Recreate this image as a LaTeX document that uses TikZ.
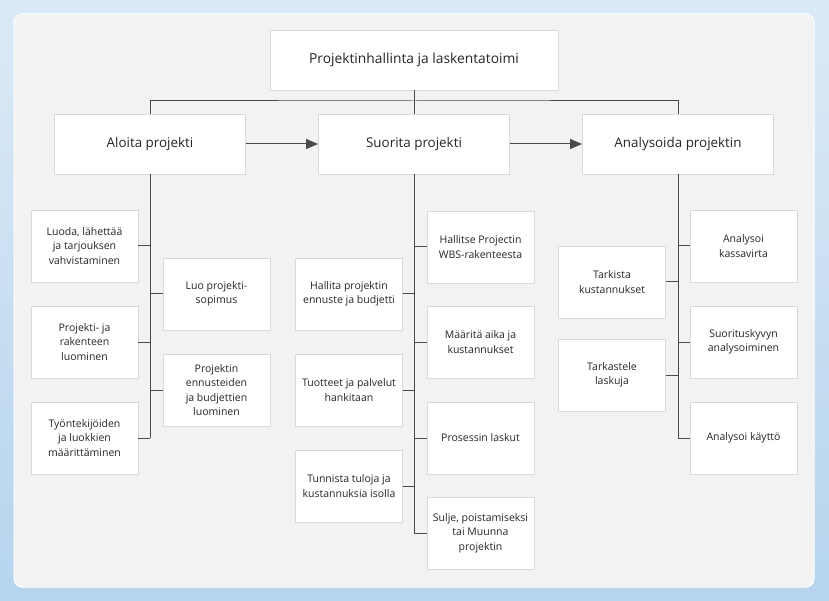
\documentclass[tikz,border=0pt]{standalone}
\usepackage{fontspec}
\setmainfont{Open Sans}
\usetikzlibrary{arrows.meta,positioning,calc}

\definecolor{bgLight}{HTML}{DCEAF7}
\definecolor{bgDark}{HTML}{B5D4ED}
\definecolor{panelGrey}{HTML}{F2F2F2}
\definecolor{boxLine}{HTML}{D9D9D9}
\definecolor{wire}{HTML}{4A4A4A}
\definecolor{ink}{HTML}{262626}

\begin{document}
\begin{tikzpicture}
            [x=1pt,y=-1pt,
            >={Triangle[length=12pt,width=10pt]},
            box/.style={draw=boxLine,fill=white,line width=0.9pt,align=center,inner sep=0pt,text=ink},
            head/.style={box,minimum width=288pt,minimum height=60pt,font=\fontsize{13.8}{16}\selectfont},
            phase/.style={box,minimum width=191pt,minimum height=60pt,font=\fontsize{13.4}{16}\selectfont},
            task/.style={box,minimum width=107pt,minimum height=72pt,font=\fontsize{10.5}{14.3}\selectfont},
            wire/.style={draw=wire,line width=1pt}
            ]
            % background and panel
            \shade[shading angle=35,top color=bgLight,bottom color=bgDark] (0,0) rectangle (829,601);
            \useasboundingbox (0,0) rectangle (829,601);
            \draw[fill=panelGrey,draw=white,line width=1pt,rounded corners=8pt] (14,14) rectangle (814,587);

            \node[head] (top) at (414,60) {Projektinhallinta ja laskentatoimi};
            \node[phase] (aloita) at (150,144) {Aloita projekti};
            \node[phase] (suorita) at (414,144) {Suorita projekti};
            \node[phase] (analysoi) at (678,144) {Analysoida projektin};

            \coordinate (bar) at (414,101);
            \draw[wire] (top) -- (bar);
            \draw[wire] (aloita.north) |- (bar) -| (analysoi.north);
            \draw[wire] (bar) -- (suorita.north);
            \draw[wire,->] (aloita) -- (suorita);
            \draw[wire,->] (suorita) -- (analysoi);

            % Aloita projekti
            \node[task] (a1) at (84.5,246) {Luoda, lähettää\\ja tarjouksen\\vahvistaminen};
            \node[task] (a2) at (216.5,294) {Luo projekti-\\sopimus};
            \node[task] (a3) at (84.5,342) {Projekti- ja\\rakenteen\\luominen};
            \node[task] (a4) at (216.5,390) {Projektin\\ennusteiden\\ja budjettien\\luominen};
            \node[task] (a5) at (84.5,438) {Työntekijöiden\\ja luokkien\\määrittäminen};

            % Suorita projekti
            \node[task] (s1) at (480.5,247) {Hallitse Projectin\\WBS-rakenteesta};
            \node[task] (s2) at (349,294) {Hallita projektin\\ennuste ja budjetti};
            \node[task] (s3) at (480.5,342) {Määritä aika ja\\kustannukset};
            \node[task] (s4) at (349,390) {Tuotteet ja palvelut\\hankitaan};
            \node[task] (s5) at (480.5,438) {Prosessin laskut};
            \node[task] (s6) at (349,486) {Tunnista tuloja ja\\kustannuksia isolla};
            \node[task] (s7) at (480.5,533) {Sulje, poistamiseksi\\tai Muunna\\projektin};

            % Analysoida projektin
            \node[task] (n1) at (743.5,246) {Analysoi\\kassavirta};
            \node[task] (n2) at (612,282) {Tarkista\\kustannukset};
            \node[task] (n3) at (743.5,342) {Suorituskyvyn\\analysoiminen};
            \node[task] (n4) at (612,375) {Tarkastele\\laskuja};
            \node[task] (n5) at (743.5,438) {Analysoi käyttö};

            \draw[wire] (aloita.south) -- (aloita.south |- a5.east);
            \draw[wire] (suorita.south) -- (suorita.south |- s7.west);
            \draw[wire] (analysoi.south) -- (analysoi.south |- n5.west);
            \foreach \c in {a1,a3,a5}
              \draw[wire] (\c.east) -- (\c.east -| aloita.south);
            \foreach \c in {a2,a4}
              \draw[wire] (\c.west) -- (\c.west -| aloita.south);
            \foreach \c in {s2,s4,s6}
              \draw[wire] (\c.east) -- (\c.east -| suorita.south);
            \foreach \c in {s1,s3,s5,s7}
              \draw[wire] (\c.west) -- (\c.west -| suorita.south);
            \foreach \c in {n2,n4}
              \draw[wire] (\c.east) -- (\c.east -| analysoi.south);
            \foreach \c in {n1,n3,n5}
              \draw[wire] (\c.west) -- (\c.west -| analysoi.south);
          \end{tikzpicture}
\end{document}
